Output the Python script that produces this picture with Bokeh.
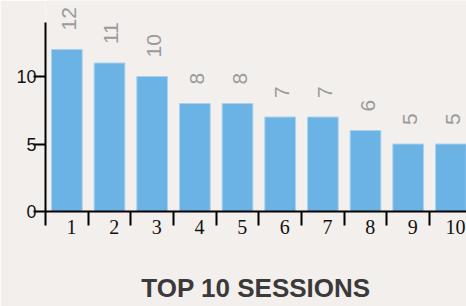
import re
from bokeh.plotting import figure
from bokeh.models import (ColumnDataSource, Range1d, FixedTicker, LabelSet)
from bokeh.core.properties import value
from bokeh.embed import file_html
from bokeh.resources import INLINE

# ---- data ----
sessions = [1, 2, 3, 4, 5, 6, 7, 8, 9, 10]
session_labels = ["1", "2", "3", "4", "5", "6", "7", "8", "9", "10"]
counts = [12, 11, 10, 8, 8, 7, 7, 6, 5, 5]
y_ticks = [0, 5, 10]
title_text = "TOP 10 SESSIONS"

BG = "#f3efec"
BAR = "#6cb3e5"

src = ColumnDataSource(dict(x=sessions, top=counts,
                            lbl=[str(c) for c in counts]))

p = figure(width=466, height=306, output_backend="svg", toolbar_location=None,
           x_range=Range1d(0.5, 10.367), y_range=Range1d(0, 15.63),
           min_border_left=45, min_border_right=0, min_border_top=0,
           min_border_bottom=95)
p.background_fill_color = BG
p.border_fill_color = BG
p.outline_line_color = None
p.xgrid.visible = False
p.ygrid.visible = False

p.vbar(x="x", top="top", width=0.72, source=src, fill_color=BAR,
       line_color="#a9d2f0", line_width=1)

labels = LabelSet(x="x", y="top", text="lbl", source=src, angle=1.5708,
                  text_align="left", text_baseline="middle",
                  x_offset=2, y_offset=19, text_color="#9b9b9b",
                  text_font=value("Liberation Sans"), text_font_size="21px")
p.add_layout(labels)

# y axis
ya = p.yaxis[0]
ya.ticker = FixedTicker(ticks=y_ticks, minor_ticks=[])
ya.bounds = (0, 14)
ya.axis_line_width = 2
ya.axis_line_color = "black"
ya.major_tick_in = 0
ya.major_tick_out = 12
ya.major_tick_line_width = 2
ya.major_tick_line_color = "black"
ya.minor_tick_out = 0
ya.minor_tick_in = 0
ya.major_label_standoff = -3
ya.major_label_text_font = "Liberation Sans"
ya.major_label_text_font_size = "18px"
ya.major_label_text_color = "#111111"

# x axis
xa = p.xaxis[0]
label_pos = [s + 0.11 for s in sessions]
xa.ticker = FixedTicker(ticks=label_pos, minor_ticks=[s - 0.5 for s in sessions])
xa.major_label_overrides = {lp: t for lp, t in zip(label_pos, session_labels)}
xa.axis_line_width = 2
xa.axis_line_color = "black"
xa.major_tick_in = 0
xa.major_tick_out = 0
xa.minor_tick_in = 0
xa.minor_tick_out = 14
xa.minor_tick_line_width = 2
xa.minor_tick_line_color = "black"
xa.major_label_standoff = -6
xa.major_label_text_font = "Liberation Serif"
xa.major_label_text_font_size = "20px"
xa.major_label_text_color = "#111111"

xa.axis_label = title_text
xa.axis_label_standoff = 36
xa.axis_label_text_font = "Liberation Sans"
xa.axis_label_text_font_size = "26px"
xa.axis_label_text_font_style = "bold"
xa.axis_label_text_color = "#3a3a3a"

html = file_html(p, INLINE)
html = re.sub(r"<body([^>]*)>", r'<body\1 style="background:%s">' % BG, html, count=1)
open("out.html", "w").write(html)
